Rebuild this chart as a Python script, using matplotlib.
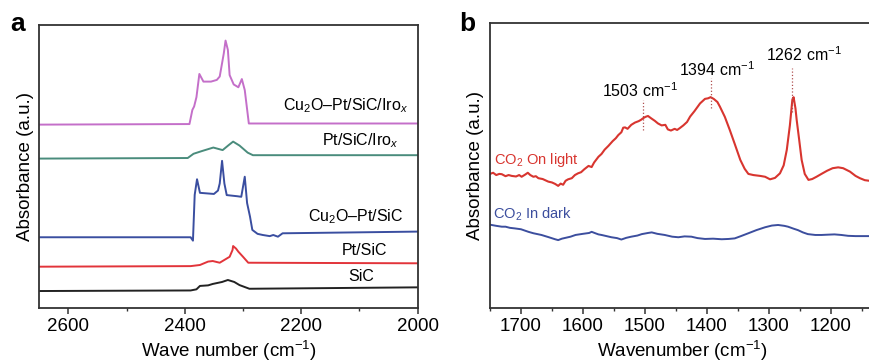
import numpy as np
import matplotlib
matplotlib.use("Agg")
import matplotlib.pyplot as plt
from matplotlib.ticker import MultipleLocator

plt.rcParams['font.family'] = ['Liberation Sans', 'DejaVu Sans']
plt.rcParams['mathtext.fontset'] = 'custom'
plt.rcParams['mathtext.rm'] = 'Liberation Sans'
plt.rcParams['mathtext.it'] = 'Liberation Sans:italic'
plt.rcParams['mathtext.bf'] = 'Liberation Sans:bold'

# ------------------------------------------------------------------------------
# Panel a data (wavenumber, absorbance in a.u. incl. vertical offset)
# ------------------------------------------------------------------------------
sic_wn = [2650, 2390, 2380, 2374, 2360, 2352, 2336, 2326, 2315, 2306, 2289, 2000]
sic_abs = [0.060, 0.062, 0.066, 0.078, 0.080, 0.085, 0.092, 0.099, 0.092, 0.081, 0.068, 0.073]

ptsic_wn = [2650, 2390, 2374, 2360, 2352, 2340, 2323, 2318, 2317, 2312, 2308, 2300, 2291, 2000]
ptsic_abs = [0.146, 0.148, 0.152, 0.164, 0.166, 0.160, 0.181, 0.205, 0.219, 0.210, 0.199, 0.181, 0.160, 0.158]

cupt_wn = [2650, 2390, 2386, 2383, 2379, 2374, 2350, 2343, 2340, 2336, 2332, 2328, 2310, 2303,
           2297, 2293, 2288, 2284, 2275, 2266, 2254, 2248, 2240, 2232, 2000]
cupt_abs = [0.250, 0.250, 0.238, 0.400, 0.455, 0.407, 0.403, 0.415, 0.440, 0.520, 0.440, 0.399,
            0.395, 0.393, 0.464, 0.371, 0.323, 0.276, 0.262, 0.258, 0.254, 0.258, 0.252, 0.264, 0.270]

ptir_wn = [2650, 2395, 2385, 2370, 2351, 2335, 2325, 2317, 2306, 2292, 2283, 2000]
ptir_abs = [0.528, 0.530, 0.545, 0.555, 0.567, 0.558, 0.575, 0.588, 0.574, 0.549, 0.540, 0.540]

cuptir_wn = [2650, 2392, 2387, 2384, 2380, 2375, 2368, 2355, 2345, 2340, 2333, 2330, 2326, 2323,
             2316, 2308, 2302, 2297, 2290, 2000]
cuptir_abs = [0.648, 0.650, 0.700, 0.712, 0.745, 0.827, 0.800, 0.800, 0.806, 0.818, 0.900, 0.945,
              0.912, 0.823, 0.790, 0.780, 0.809, 0.770, 0.652, 0.652]

labels_a = ["SiC", "Pt/SiC", "Cu$_2$O–Pt/SiC", "Pt/SiC/Iro$_x$", "Cu$_2$O–Pt/SiC/Iro$_x$"]
colors_a = ["#222222", "#e2343a", "#3a4ea0", "#4a8c7c", "#c46fc9"]

# ------------------------------------------------------------------------------
# Panel b data
# ------------------------------------------------------------------------------
light_wn = [1750, 1745, 1740, 1735, 1731, 1725, 1720, 1715, 1708, 1703, 1699, 1693, 1689, 1685,
            1680, 1676, 1672, 1665, 1660, 1656, 1650, 1645, 1640, 1636, 1632, 1628, 1624, 1618,
            1613, 1608, 1603, 1598, 1591, 1586, 1582, 1575, 1570, 1565, 1559, 1552, 1547, 1543,
            1538, 1535, 1532, 1528, 1522, 1516, 1510, 1506, 1503, 1499, 1495, 1490, 1484, 1479,
            1473, 1467, 1463, 1458, 1452, 1448, 1444, 1438, 1432, 1427, 1420, 1411, 1403, 1398,
            1394, 1389, 1383, 1379, 1371, 1363, 1355, 1346, 1339, 1333, 1325, 1314, 1306, 1298,
            1290, 1282, 1276, 1271, 1266, 1262, 1260, 1257, 1255, 1251, 1247, 1242, 1236, 1230,
            1223, 1215, 1206, 1197, 1188, 1180, 1169, 1160, 1153, 1145, 1138, 1130]
light_abs = [0.470, 0.474, 0.466, 0.470, 0.469, 0.462, 0.466, 0.463, 0.461, 0.466, 0.460, 0.468,
             0.474, 0.466, 0.460, 0.462, 0.455, 0.452, 0.447, 0.443, 0.440, 0.435, 0.428, 0.436,
             0.432, 0.446, 0.451, 0.455, 0.466, 0.472, 0.476, 0.486, 0.498, 0.494, 0.510, 0.530,
             0.540, 0.555, 0.568, 0.585, 0.595, 0.606, 0.616, 0.632, 0.633, 0.628, 0.642, 0.650,
             0.655, 0.660, 0.665, 0.670, 0.673, 0.665, 0.656, 0.647, 0.640, 0.642, 0.626, 0.622,
             0.628, 0.624, 0.630, 0.640, 0.652, 0.671, 0.690, 0.717, 0.733, 0.735, 0.739, 0.733,
             0.722, 0.706, 0.670, 0.624, 0.575, 0.519, 0.488, 0.470, 0.466, 0.463, 0.460, 0.451,
             0.456, 0.472, 0.500, 0.554, 0.640, 0.730, 0.739, 0.700, 0.659, 0.590, 0.519, 0.470,
             0.449, 0.452, 0.460, 0.470, 0.481, 0.490, 0.493, 0.490, 0.478, 0.463, 0.455, 0.448,
             0.446, 0.445]

dark_wn = [1750, 1745, 1740, 1731, 1725, 1718, 1710, 1700, 1688, 1680, 1667, 1655, 1645, 1640,
           1634, 1628, 1620, 1612, 1600, 1590, 1586, 1580, 1575, 1570, 1562, 1554, 1545, 1538,
           1530, 1522, 1512, 1505, 1495, 1489, 1480, 1468, 1456, 1446, 1436, 1425, 1415, 1403,
           1390, 1376, 1365, 1355, 1345, 1333, 1320, 1306, 1295, 1285, 1275, 1269, 1260, 1253,
           1245, 1237, 1225, 1215, 1205, 1194, 1183, 1172, 1160, 1145, 1130]
dark_abs = [0.292, 0.290, 0.288, 0.285, 0.285, 0.281, 0.279, 0.276, 0.267, 0.262, 0.256, 0.248,
            0.241, 0.238, 0.243, 0.246, 0.250, 0.256, 0.260, 0.263, 0.267, 0.262, 0.258, 0.256,
            0.252, 0.248, 0.245, 0.240, 0.246, 0.250, 0.254, 0.259, 0.263, 0.265, 0.260, 0.256,
            0.250, 0.248, 0.251, 0.250, 0.245, 0.242, 0.243, 0.241, 0.242, 0.244, 0.252, 0.262,
            0.273, 0.283, 0.289, 0.291, 0.288, 0.285, 0.278, 0.273, 0.265, 0.259, 0.256, 0.256,
            0.257, 0.258, 0.256, 0.253, 0.252, 0.252, 0.252]

peaks_b = [1503, 1394, 1262]
peak_line_lo = [0.624, 0.700, 0.688]
peak_line_hi = [0.729, 0.805, 0.840]
peak_text_y = [0.738, 0.813, 0.867]
peak_text_x = [1508, 1384, 1244]

red_b = "#d8352f"
blue_b = "#3c4e9e"
spine_clr = "#333333"


def style_axis(ax):
    for s in ax.spines.values():
        s.set_color(spine_clr)
        s.set_linewidth(1.3)
    ax.tick_params(axis='x', which='major', direction='out', length=4, width=1.1,
                   labelsize=13.5, colors=spine_clr, labelcolor='black', pad=3)
    ax.tick_params(axis='x', which='minor', direction='out', length=2.5, width=1.0,
                   colors=spine_clr)
    ax.set_yticks([])
    ax.set_ylim(0, 1)
    ax.set_ylabel("Absorbance (a.u.)", fontsize=13.5, labelpad=4)


fig = plt.figure(figsize=(8.69, 3.63), dpi=100)

# ------------------------------------------------------------------------------
# Panel a
# ------------------------------------------------------------------------------
ax_a = fig.add_axes([0.0452, 0.1515, 0.4354, 0.7796])
series_a = [(sic_wn, sic_abs), (ptsic_wn, ptsic_abs), (cupt_wn, cupt_abs),
            (ptir_wn, ptir_abs), (cuptir_wn, cuptir_abs)]
for (wn, ab), clr in zip(series_a, colors_a):
    ax_a.plot(wn, ab, color=clr, lw=1.4)

label_pos_a = [(2074, 0.096), (2052, 0.187), (2024, 0.305), (2033, 0.576), (2016, 0.700)]
for lab, (lx, ly) in zip(labels_a, label_pos_a):
    ax_a.text(lx, ly, lab, ha='right', va='baseline', fontsize=11.5)

ax_a.set_xlim(2650, 2000)
ax_a.xaxis.set_major_locator(MultipleLocator(200))
ax_a.xaxis.set_minor_locator(MultipleLocator(100))
style_axis(ax_a)
ax_a.set_xlabel("Wave number (cm$^{-1}$)", fontsize=13.5, labelpad=3)

# ------------------------------------------------------------------------------
# Panel b
# ------------------------------------------------------------------------------
ax_b = fig.add_axes([0.5639, 0.1515, 0.442, 0.786])
ax_b.plot(light_wn, light_abs, color=red_b, lw=1.5)
ax_b.plot(dark_wn, dark_abs, color=blue_b, lw=1.4)

for px, lo, hi, tx, ty in zip(peaks_b, peak_line_lo, peak_line_hi, peak_text_x, peak_text_y):
    ax_b.plot([px, px], [lo, hi], color="#b05050", lw=0.9, ls=':')
    ax_b.text(tx, ty, f"{px} cm$^{{-1}}$", ha='center', va='baseline', fontsize=11.5)

ax_b.text(1743, 0.505, "CO$_2$ On light", color=red_b, fontsize=10.5, va='baseline')
ax_b.text(1746, 0.314, "CO$_2$ In dark", color=blue_b, fontsize=10.5, va='baseline')

ax_b.set_xlim(1750, 1130)
ax_b.xaxis.set_major_locator(MultipleLocator(100))
ax_b.xaxis.set_minor_locator(MultipleLocator(50))
style_axis(ax_b)
ax_b.set_xlabel("Wavenumber (cm$^{-1}$)", fontsize=13.5, labelpad=3)

fig.text(0.0115, 0.9146, "a", fontsize=19, fontweight='bold', va='baseline')
fig.text(0.529, 0.9146, "b", fontsize=19, fontweight='bold', va='baseline')

fig.savefig("out.png", dpi=100)
